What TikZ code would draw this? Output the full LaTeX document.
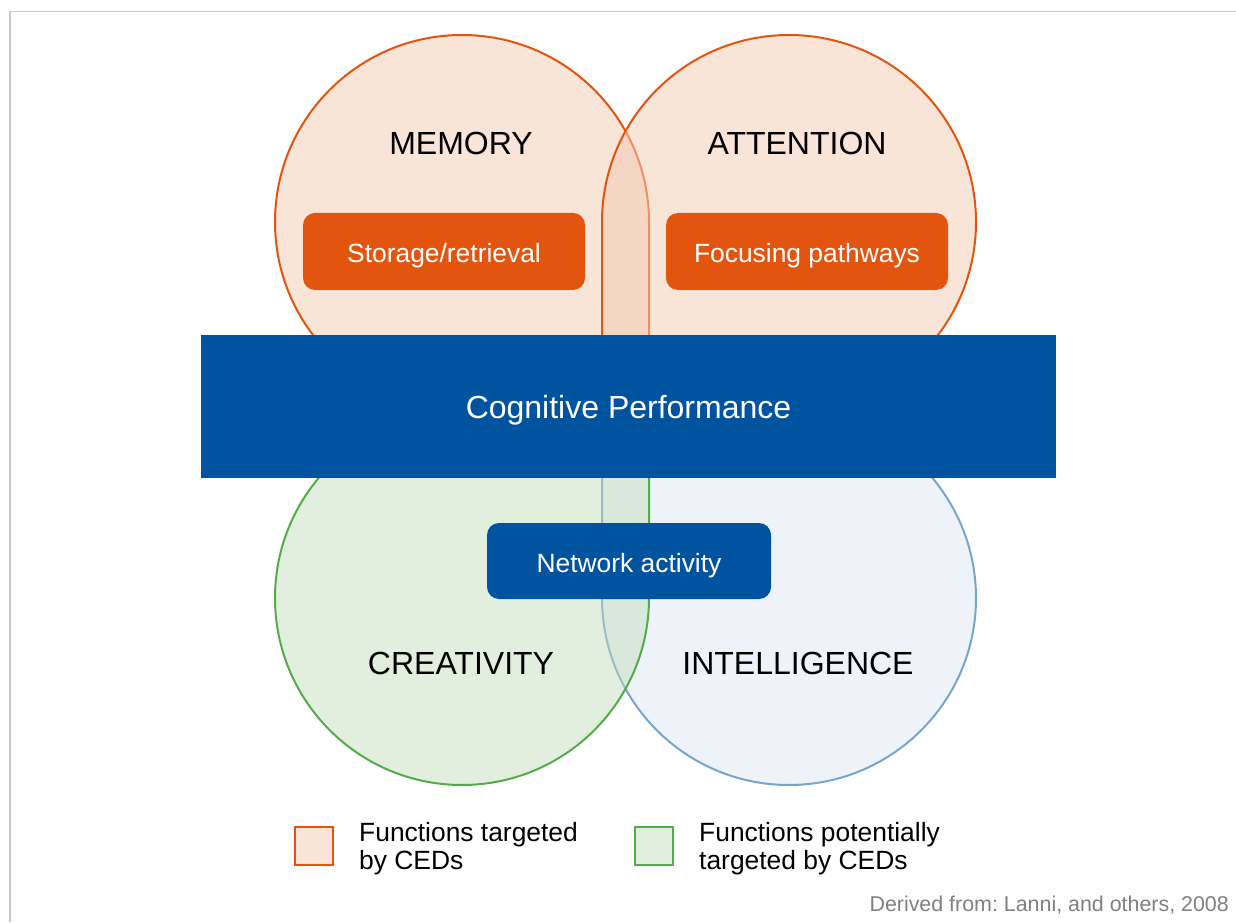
\documentclass[tikz,border=0pt]{standalone}
\usepackage{fontspec}
\setmainfont{Liberation Sans}
\usepackage{tikz}
\usetikzlibrary{calc}
\usetikzlibrary{positioning}
\definecolor{cedorange}{RGB}{227, 85, 15}
\definecolor{peach}{RGB}{249, 228, 216}
\definecolor{peachtint}{RGB}{243, 203, 180}
\definecolor{cogblue}{RGB}{0, 84, 159}
\definecolor{leafgreen}{RGB}{84, 172, 72}
\definecolor{mintfill}{RGB}{191, 220, 184}
\definecolor{mintlight}{RGB}{226, 239, 223}
\definecolor{skyline}{RGB}{120, 165, 208}
\definecolor{skyfill}{RGB}{238, 243, 249}
\definecolor{framegray}{RGB}{200, 200, 200}
\definecolor{notegray}{RGB}{128, 128, 128}
\frenchspacing

\tikzset{
    function/.style={font=\fontsize{32}{38}\selectfont, text height=23pt, text depth=0pt, inner sep=0pt},
    pathbox/.style={rounded corners=12pt, text=white, minimum width=282pt, minimum height=77pt,
                    font=\fontsize{26.4}{30}\selectfont, text height=23pt, text depth=0pt},
    keybox/.style={line width=2pt, minimum size=38pt, inner sep=0pt},
    keytext/.style={anchor=west, align=left, inner sep=0pt, font=\fontsize{26.4}{28.5}\selectfont}
}

\begin{document}
\begin{tikzpicture}[x=1pt, y=1pt]
            \useasboundingbox (0,0) rectangle (1236,922);
            % Frame
            \draw[framegray, line width=1.5pt] (10,0) -- (10,910.5) -- (1236,910.5);
            % Memory & Attention
            \filldraw[cedorange, line width=2pt, fill=peach]
                 (649,515) -- (649,700) arc[start angle=0, end angle=270, radius=187pt] -- cycle;
            \filldraw[cedorange, line width=2pt, fill=peachtint, fill opacity=0.52]
                 (602,515) -- (602,700) arc[start angle=180, end angle=-90, radius=187pt] -- cycle;
            % Intelligence & Creativity
            \filldraw[skyline, line width=2pt, fill=skyfill]
                 (602,515) -- (602,324) arc[start angle=180, end angle=450, radius=187pt] -- cycle;
            \filldraw[leafgreen, line width=2pt, fill=mintfill, fill opacity=0.45]
                 (649,515) -- (649,324) arc[start angle=0, end angle=-270, radius=187pt] -- cycle;
            % Labels
            \node[function] (memory)       at (461,779) {MEMORY};
            \node[function] (attention)    at (797,779) {ATTENTION};
            \node[function] (creativity)   at (461,259) {CREATIVITY};
            \node[function] (intelligence) at (798,259) {INTELLIGENCE};
            % Boxes
            \node[pathbox, fill=cedorange] (storage)  at (444,670.5) {Storage/retrieval};
            \node[pathbox, fill=cedorange] (focusing) at (807,670.5) {Focusing pathways};
            \node[fill=cogblue, text=white, minimum width=855pt, minimum height=143pt,
                  font=\fontsize{32}{38}\selectfont, text height=25pt, text depth=0pt] (performance)
                 at (628.5,515.5) {Cognitive Performance};
            \node[pathbox, fill=cogblue, minimum width=284pt, minimum height=76pt] (network)
                 at (629,361) {Network activity};
            % Key
            \node[keybox, draw=cedorange, fill=peach] (keyorange) at (314,76) {};
            \node[keytext] (keyorangetext) at (359,73.5) {Functions targeted\\by CEDs};
            \node[keybox, draw=leafgreen, fill=mintlight] (keygreen) at (654,76) {};
            \node[keytext] (keygreentext) at (699,73.5) {Functions potentially\\targeted by CEDs};
            % Source
            \node[anchor=east, inner sep=0pt, text=notegray, font=\fontsize{21.4}{24}\selectfont,
                  text height=15.5pt, text depth=0pt] (source) at (1229,18) {Derived from: Lanni, and others, 2008};
        \end{tikzpicture}
\end{document}
